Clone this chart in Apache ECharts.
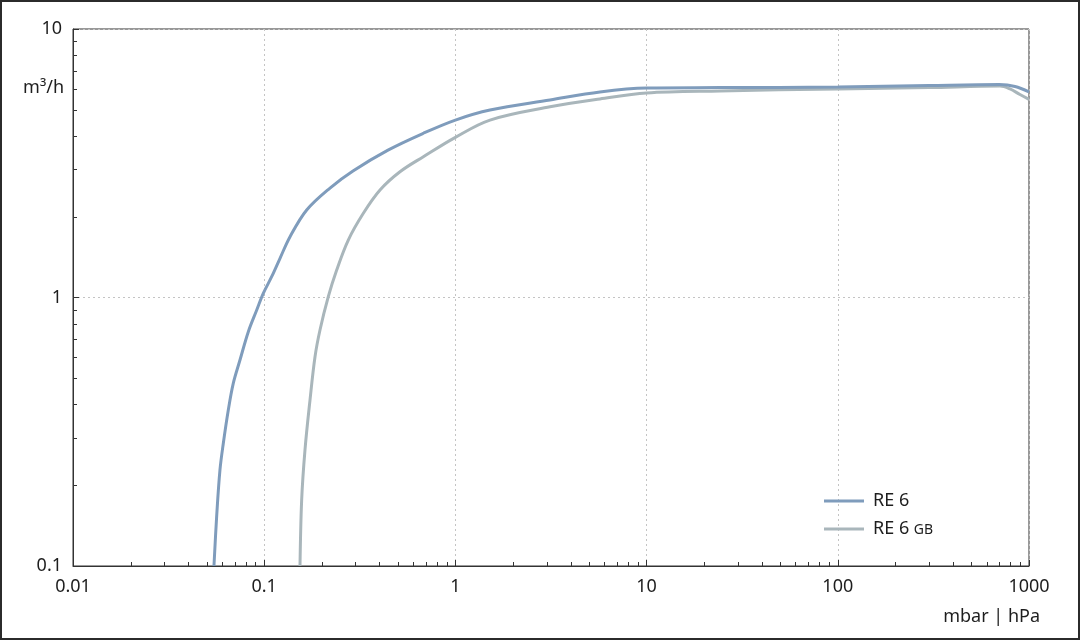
<!DOCTYPE html>
<html>
<head>
<meta charset="utf-8">
<script src="https://cdn.jsdelivr.net/npm/echarts@6/dist/echarts.min.js"></script>
<style>
html,body{margin:0;padding:0;background:#fff;}
#chart{width:1080px;height:640px;}
</style>
</head>
<body>
<div id="chart"></div>
<script>
// ---- data ----
const xTickLabels = ['0.01', '0.1', '1', '10', '100', '1000'];
const yTickLabels = ['0.1', '1', '10'];
const seriesNames = ['RE 6', 'RE 6 GB'];

const re6X = [0.0546, 0.0564, 0.0587, 0.0611, 0.0649, 0.0689, 0.0747, 0.0826, 0.0914, 0.0989, 0.1094, 0.121, 0.1365, 0.1668, 0.2208, 0.2913, 0.444, 0.68, 1.0, 1.517, 3.125, 5.7, 10, 24.2, 100, 300, 700, 845, 1000];
const re6Y = [0.1, 0.1527, 0.228, 0.286, 0.381, 0.479, 0.585, 0.746, 0.898, 1.036, 1.195, 1.40, 1.684, 2.118, 2.557, 2.96, 3.54, 4.09, 4.58, 4.99, 5.44, 5.83, 6.03, 6.05, 6.08, 6.16, 6.21, 6.11, 5.83];

const gbX = [0.1539, 0.157, 0.1634, 0.1736, 0.1844, 0.1958, 0.2164, 0.2394, 0.2753, 0.330, 0.4034, 0.513, 0.68, 1.0, 1.517, 3.125, 5.7, 10, 24.2, 100, 300, 705, 796, 897, 1000];
const gbY = [0.1, 0.176, 0.2704, 0.415, 0.602, 0.757, 1.007, 1.266, 1.637, 2.059, 2.514, 2.94, 3.345, 3.95, 4.58, 5.13, 5.49, 5.78, 5.88, 5.98, 6.05, 6.13, 5.98, 5.70, 5.47];

// minor tick positions (2..9 within each decade)
const minorX = [];
[0.01, 0.1, 1, 10, 100].forEach(d => { for (let k = 2; k <= 9; k++) minorX.push(+(k * d).toPrecision(3)); });
const minorY = [];
[0.1, 1].forEach(d => { for (let k = 2; k <= 9; k++) minorY.push(+(k * d).toPrecision(3)); });

const FONT = 'Noto Sans';
const TXT = '#1e1e1e';
const AX = '#333333';

const chart = echarts.init(document.getElementById('chart'), null, {renderer: 'canvas'});

const baseGraphic = [
  {type: 'rect', shape: {x: 1, y: 1, width: 1078, height: 638}, style: {fill: 'none', stroke: '#2b2b2b', lineWidth: 2}, silent: true},
  {type: 'text', x: 64, y: 88, style: {text: 'm³/h', font: '18px "Noto Sans"', fill: TXT, align: 'right', verticalAlign: 'middle'}},
  {type: 'text', x: 1040, y: 617, style: {text: 'mbar | hPa', font: '18px "Noto Sans"', fill: TXT, align: 'right', verticalAlign: 'middle'}}
];

chart.setOption({
  animation: false,
  backgroundColor: '#fff',
  graphic: baseGraphic,
  grid: {left: 73, top: 29, right: 51, bottom: 74, show: true, borderColor: AX, borderWidth: 1, backgroundColor: 'transparent'},
  legend: {
    data: seriesNames, orient: 'vertical', left: 819, top: 487,
    itemWidth: 40, itemHeight: 16, itemGap: 10,
    icon: 'path://M0,0 L40,0 L40,3 L0,3 Z',
    formatter: function (name) { return name === 'RE 6 GB' ? 'RE 6 {s|GB}' : name; },
    textStyle: {fontFamily: FONT, fontSize: 18, color: TXT, padding: [0, 0, 0, 4],
      rich: {s: {fontFamily: FONT, fontSize: 14, color: TXT, padding: [3, 0, 0, 0]}}}
  },
  xAxis: {
    type: 'log', min: 0.01, max: 1000, logBase: 10,
    axisLine: {show: true, lineStyle: {color: AX, width: 1}},
    axisTick: {show: true, inside: true, length: 6, lineStyle: {color: AX, width: 1}},
    axisLabel: {fontFamily: FONT, fontSize: 18, color: TXT, margin: 12,
      formatter: function (v) { const s = xTickLabels.find(t => Math.abs(+t - v) / v < 1e-6); return s || ''; }},
    splitLine: {show: true, lineStyle: {color: '#c4c4c4', type: [2, 3], width: 1}}
  },
  yAxis: {
    type: 'log', min: 0.1, max: 10, logBase: 10,
    axisLine: {show: true, lineStyle: {color: AX, width: 1}},
    axisTick: {show: true, inside: true, length: 6, lineStyle: {color: AX, width: 1}},
    axisLabel: {fontFamily: FONT, fontSize: 18, color: TXT, margin: 11,
      formatter: function (v) { const s = yTickLabels.find(t => Math.abs(+t - v) / v < 1e-6); return s || ''; }},
    splitLine: {show: true, lineStyle: {color: '#c4c4c4', type: [2, 3], width: 1}}
  },
  series: [
    {name: 'RE 6 GB', type: 'line', data: gbX.map((x, i) => [x, gbY[i]]), symbol: 'none', smooth: 0.35,
      lineStyle: {color: '#a9b6bb', width: 3}, itemStyle: {color: '#a9b6bb'}, z: 3},
    {name: 'RE 6', type: 'line', data: re6X.map((x, i) => [x, re6Y[i]]), symbol: 'none', smooth: 0.35,
      lineStyle: {color: '#7f9cbc', width: 3}, itemStyle: {color: '#7f9cbc'}, z: 4}
  ]
});

// log minor ticks (inside), positioned through the chart's own scales
const ticks = [];
function px(x, y) { return chart.convertToPixel({gridIndex: 0}, [x, y]); }
minorX.forEach(v => {
  const p = px(v, 0.1); const xx = Math.round(p[0]) + 0.5; const yy = Math.round(p[1]);
  ticks.push({type: 'line', silent: true, z: 100, shape: {x1: xx, y1: yy, x2: xx, y2: yy - 4}, style: {stroke: AX, lineWidth: 1}});
});
minorY.forEach(v => {
  const p = px(0.01, v); const xx = Math.round(p[0]); const yy = Math.round(p[1]) + 0.5;
  ticks.push({type: 'line', silent: true, z: 100, shape: {x1: xx, y1: yy, x2: xx + 4, y2: yy}, style: {stroke: AX, lineWidth: 1}});
});
chart.setOption({graphic: baseGraphic.concat(ticks)}, {replaceMerge: ['graphic']});
</script>
</body>
</html>
